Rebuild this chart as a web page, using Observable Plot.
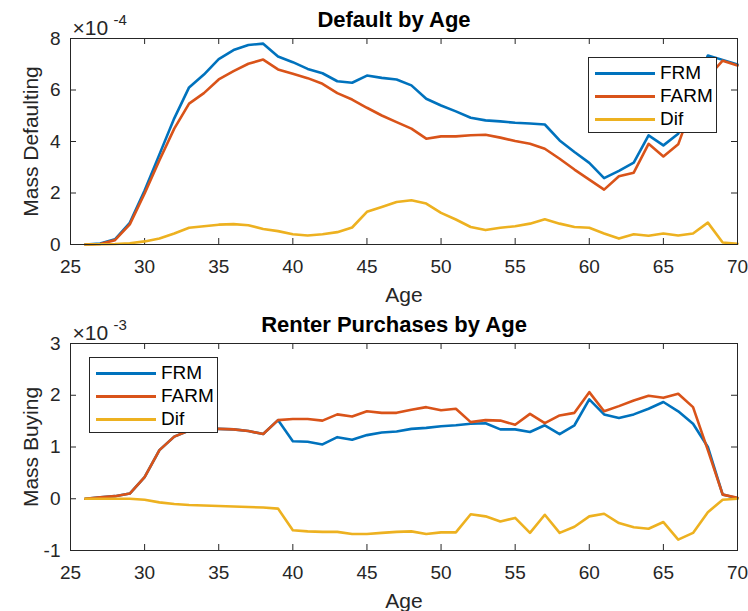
<!DOCTYPE html>
<html><head><meta charset="utf-8">
<script src="https://cdn.jsdelivr.net/npm/d3@7"></script>
<script src="https://cdn.jsdelivr.net/npm/@observablehq/plot@0.6"></script>
<style>
body{margin:0;background:#fff;font-family:"Liberation Sans",Arial,sans-serif;}
#wrap{position:relative;width:748px;height:611px;overflow:hidden;}
.panel{position:absolute;left:0;width:748px;}
.legend{position:absolute;background:#fff;border:1px solid #262626;box-sizing:border-box;}
.legend .row{position:absolute;left:0;height:20px;display:flex;align-items:center;font-size:19px;color:#000;}
.legend .sw{display:inline-block;width:60px;height:3px;margin-left:6px;margin-right:5px;}
</style></head><body><div id="wrap"></div>
<script>
const ages = [26,27,28,29,30,31,32,33,34,35,36,37,38,39,40,41,42,43,44,45,46,47,48,49,50,51,52,53,54,55,56,57,58,59,60,61,62,63,64,65,66,67,68,69,70];
const seriesNames = ["FRM", "FARM", "Dif"];
const seriesColors = ["#0072BD", "#D95319", "#EDB120"];
const xTicks = [25,30,35,40,45,50,55,60,65,70];

// Default by Age (x10^-4)
const defaultFRM = [0,0.04,0.2,0.84,2.1,3.5,4.9,6.1,6.6,7.2, 7.55,7.75,7.8,7.3,7.08,6.82,6.65,6.34,6.28,6.56, 6.47,6.41,6.18,5.66,5.4,5.17,4.92,4.82,4.78,4.73, 4.70,4.66,4.04,3.59,3.17,2.58,2.86,3.18,4.24,3.85, 4.3,5.9,7.34,7.17,6.99];
const defaultFARM = [0,0.02,0.17,0.78,1.98,3.27,4.5,5.47,5.88,6.41, 6.73,7.02,7.18,6.8,6.63,6.46,6.24,5.88,5.63,5.31, 5.01,4.75,4.5,4.11,4.2,4.2,4.24,4.26,4.15,4.02, 3.91,3.72,3.33,2.91,2.52,2.13,2.65,2.79,3.91,3.42, 3.89,5.47,6.5,7.14,6.95];
const defaultDif = [0,0.01,0.02,0.05,0.12,0.23,0.43,0.65,0.71,0.77, 0.79,0.75,0.6,0.52,0.4,0.35,0.4,0.48,0.66,1.27, 1.46,1.65,1.72,1.59,1.23,0.97,0.68,0.56,0.65,0.71, 0.81,0.98,0.81,0.68,0.65,0.43,0.23,0.4,0.34,0.43, 0.35,0.43,0.85,0.08,0.03];
const defaultYTicks = [0,2,4,6,8];

// Renter Purchases by Age (x10^-3)
const buyFRM = [0,0.03,0.05,0.1,0.42,0.94,1.2,1.32,1.36,1.35, 1.34,1.31,1.25,1.52,1.11,1.10,1.05,1.19,1.14,1.23, 1.28,1.30,1.35,1.37,1.40,1.42,1.45,1.46,1.34,1.34, 1.29,1.42,1.25,1.42,1.92,1.63,1.56,1.63,1.74,1.87, 1.69,1.45,1.0,0.08,0.01];
const buyFARM = [0,0.03,0.05,0.1,0.42,0.94,1.2,1.32,1.36,1.35, 1.34,1.31,1.25,1.52,1.54,1.54,1.51,1.63,1.59,1.69, 1.66,1.66,1.72,1.77,1.71,1.74,1.48,1.52,1.51,1.43, 1.64,1.46,1.61,1.66,2.06,1.69,1.79,1.9,1.99,1.95, 2.03,1.77,0.94,0.08,0.02];
const buyDif = [0,0,0,0,-0.02,-0.07,-0.1,-0.12,-0.13,-0.14, -0.15,-0.16,-0.17,-0.19,-0.61,-0.63,-0.64,-0.64,-0.68,-0.68, -0.66,-0.64,-0.63,-0.68,-0.65,-0.65,-0.3,-0.34,-0.44,-0.37, -0.66,-0.31,-0.66,-0.54,-0.34,-0.29,-0.47,-0.55,-0.58,-0.45, -0.79,-0.66,-0.26,-0.02,0];
const buyYTicks = [-1,0,1,2,3];

function toLong(arrs) {
  const out = [];
  arrs.forEach((arr, i) => arr.forEach((v, j) => out.push({age: ages[j], value: v, series: seriesNames[i]})));
  return out;
}

const AX = "#262626";
const W = 748, ML = 70, MR = 11;

function makePanel(cfg) {
  const {top, height, marginTop, marginBottom, title, ylabel, expo, yTicks, data, legend} = cfg;
  const innerH = height - marginTop - marginBottom;
  const innerW = W - ML - MR;
  const div = document.createElement("div");
  div.className = "panel";
  div.style.top = top + "px";
  div.style.height = height + "px";
  const chart = Plot.plot({
    width: W, height, marginLeft: ML, marginRight: MR, marginTop, marginBottom,
    style: {fontFamily: "'Liberation Sans', Arial, sans-serif", fontSize: "19px", color: AX, background: "#fff", overflow: "visible"},
    x: {domain: [25, 70]},
    y: {domain: [yTicks[0], yTicks[yTicks.length - 1]]},
    color: {domain: seriesNames, range: seriesColors},
    marks: [
      Plot.axisX(xTicks, {tickSize: 0, tickPadding: 15, label: null, fontSize: 19, tickFormat: d => String(d)}),
      Plot.axisY(yTicks, {tickSize: 0, tickPadding: 10, label: null, fontSize: 19, tickFormat: d => String(d)}),
      Plot.tickX(xTicks, {x: d => d, insetTop: innerH - 6, stroke: AX}),
      Plot.tickX(xTicks, {x: d => d, insetBottom: innerH - 6, stroke: AX}),
      Plot.tickY(yTicks, {y: d => d, insetRight: innerW - 6, stroke: AX}),
      Plot.tickY(yTicks, {y: d => d, insetLeft: innerW - 6, stroke: AX}),
      Plot.line(data, {x: "age", y: "value", stroke: "series", strokeWidth: 2.6, strokeLinejoin: "round"}),
      Plot.frame({stroke: AX, strokeWidth: 1}),
      Plot.text(["Age"], {frameAnchor: "bottom", dy: 51, lineAnchor: "middle", fontSize: 21, fill: AX}),
      Plot.text([ylabel], {frameAnchor: "left", dx: -39, rotate: -90, textAnchor: "middle", lineAnchor: "middle", fontSize: 21, fill: AX}),
      Plot.text([title], {frameAnchor: "top", dx: -10, dy: -19, lineAnchor: "middle", fontSize: 22, fontWeight: "bold", fill: "#000"}),
      Plot.text(["\u00d710"], {frameAnchor: "top-left", dx: 2, dy: -4, textAnchor: "start", lineAnchor: "bottom", fontSize: 21, fill: AX}),
      Plot.text([expo], {frameAnchor: "top-left", dx: 43, dy: -14, textAnchor: "start", lineAnchor: "bottom", fontSize: 15, fill: AX})
    ]
  });
  div.appendChild(chart);
  const lg = document.createElement("div");
  lg.className = "legend";
  lg.style.left = legend.left + "px";
  lg.style.top = legend.top + "px";
  lg.style.width = "129px";
  lg.style.height = "76px";
  seriesNames.forEach((name, i) => {
    const row = document.createElement("div");
    row.className = "row";
    row.style.top = (5 + i * 23) + "px";
    const sw = document.createElement("span");
    sw.className = "sw";
    sw.style.background = seriesColors[i];
    const tx = document.createElement("span");
    tx.textContent = name;
    row.appendChild(sw); row.appendChild(tx);
    lg.appendChild(row);
  });
  div.appendChild(lg);
  return div;
}

const wrap = document.getElementById("wrap");
wrap.appendChild(makePanel({
  top: 0, height: 310, marginTop: 38, marginBottom: 66,
  title: "Default by Age", ylabel: "Mass Defaulting", expo: "-4",
  yTicks: defaultYTicks, data: toLong([defaultFRM, defaultFARM, defaultDif]),
  legend: {left: 588, top: 57}
}));
wrap.appendChild(makePanel({
  top: 310, height: 301, marginTop: 33, marginBottom: 61,
  title: "Renter Purchases by Age", ylabel: "Mass Buying", expo: "-3",
  yTicks: buyYTicks, data: toLong([buyFRM, buyFARM, buyDif]),
  legend: {left: 89, top: 47}
}));
</script></body></html>
